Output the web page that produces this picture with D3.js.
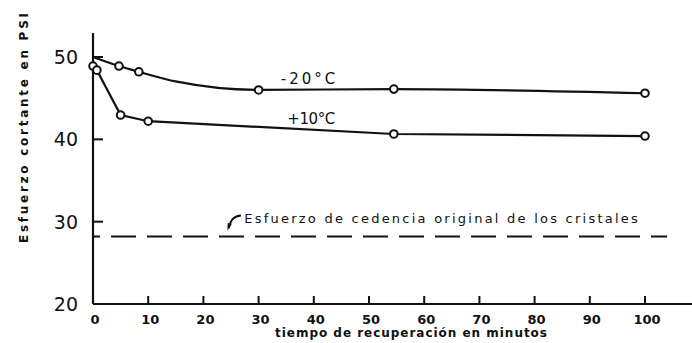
<!DOCTYPE html>
<html><head><meta charset="utf-8">
<script src="https://cdn.jsdelivr.net/npm/d3@7"></script>
<style>
html,body{margin:0;padding:0;background:#fff;}
svg{display:block;}
text{font-family:"DejaVu Sans",sans-serif;fill:#111;}
</style></head>
<body><svg id="c" width="692" height="343"></svg>
<script>
// ---- data ----
const minutesM20 = [0, 4.7, 8.3, 15.2, 30, 54.5, 100];
const valuesM20  = [50.0, 48.9, 48.2, 47.0, 46.0, 46.1, 45.6];
const markedM20  = [false, true, true, false, true, true, true];
const minutesP10 = [0, 0.7, 5, 10, 54.5, 100];
const valuesP10  = [48.9, 48.4, 42.95, 42.2, 40.65, 40.4];
const markedP10  = [true, true, true, true, true, true];
const yieldStress = 28.2;
const xTicks = [0,10,20,30,40,50,60,70,80,90,100];
const yTicks = [20,30,40,50];
const seriesLabels = ["-20°C", "+10°C"];
const yTitle = "Esfuerzo cortante en PSI";
const xTitle = "tiempo de recuperación en minutos";
const noteText = "Esfuerzo de cedencia original de los cristales";

// ---- layout ----
const svg = d3.select("#c");
const x = d3.scaleLinear().domain([0,100]).range([93,645]);
const y = d3.scaleLinear().domain([20,50]).range([304,57]);
const ink = "#111";

// axes
svg.append("line").attr("x1",x(0)).attr("x2",692).attr("y1",y(20)).attr("y2",y(20))
  .attr("stroke",ink).attr("stroke-width",2.2);
svg.append("line").attr("x1",x(0)).attr("x2",x(0)).attr("y1",y(20)).attr("y2",33)
  .attr("stroke",ink).attr("stroke-width",2.2);

// x ticks (pointing up)
svg.selectAll(".xt").data(xTicks.slice(1)).join("line")
  .attr("x1",d=>x(d)).attr("x2",d=>x(d)).attr("y1",y(20)).attr("y2",y(20)-8)
  .attr("stroke",ink).attr("stroke-width",2);
svg.selectAll(".xl").data(xTicks).join("text")
  .attr("x",d=>x(d)+2).attr("y",324).attr("text-anchor","middle")
  .attr("font-size",13).attr("font-weight","bold").text(d=>d);

// y ticks (pointing right)
svg.selectAll(".yt").data(yTicks.slice(1)).join("line")
  .attr("x1",x(0)).attr("x2",x(0)+10).attr("y1",d=>y(d)).attr("y2",d=>y(d))
  .attr("stroke",ink).attr("stroke-width",2);
svg.selectAll(".yl").data(yTicks).join("text")
  .attr("x",78).attr("y",d=>y(d)+7).attr("text-anchor","end")
  .attr("font-size",19).text(d=>d);

// axis titles
svg.append("text").attr("transform","translate(28,128) rotate(-90)")
  .attr("text-anchor","middle").attr("font-size",12).attr("font-weight","bold")
  .attr("textLength",230).attr("lengthAdjust","spacing").text(yTitle);
svg.append("text").attr("x",411).attr("y",337).attr("text-anchor","middle")
  .attr("font-size",12).attr("font-weight","bold")
  .attr("textLength",272).attr("lengthAdjust","spacing").text(xTitle);

// yield dashed line
svg.append("line").attr("x1",x(0)).attr("x2",x(104)).attr("y1",y(yieldStress)).attr("y2",y(yieldStress))
  .attr("stroke",ink).attr("stroke-width",2).attr("stroke-dasharray","25,11").attr("stroke-dashoffset",18);

// annotation arrow
svg.append("path")
  .attr("d",`M${x(24.6)},${y(29.2)} Q${x(25.0)},${y(30.7)} ${x(26.8)},${y(30.75)}`)
  .attr("fill","none").attr("stroke",ink).attr("stroke-width",1.8);
svg.append("path")
  .attr("d",`M${x(24.35)},${y(28.9)} L${x(24.4)},${y(29.85)} L${x(25.15)},${y(29.75)} Z`)
  .attr("fill",ink);
svg.append("text").attr("x",x(27.4)).attr("y",y(29.85)).attr("font-size",13)
  .attr("textLength",x(98.7)-x(27.4)).attr("lengthAdjust","spacing").text(noteText);

// series
function drawSeries(xs, vs, marks, curve){
  const pts = xs.map((d,i)=>({m:d, v:vs[i], k:marks[i]}));
  svg.append("path").datum(pts)
    .attr("d", d3.line().x(d=>x(d.m)).y(d=>y(d.v)).curve(curve))
    .attr("fill","none").attr("stroke",ink).attr("stroke-width",2.2);
  svg.append("g").selectAll("circle").data(pts.filter(d=>d.k)).join("circle")
    .attr("cx",d=>x(d.m)).attr("cy",d=>y(d.v)).attr("r",3.8)
    .attr("fill","#fff").attr("stroke",ink).attr("stroke-width",2);
}
drawSeries(minutesM20, valuesM20, markedM20, d3.curveMonotoneX);
drawSeries(minutesP10, valuesP10, markedP10, d3.curveLinear);

// series labels
svg.append("text").attr("x",x(34)).attr("y",y(47.45)+6).attr("font-size",15)
  .attr("textLength",x(43.9)-x(34)).text(seriesLabels[0]);
svg.append("text").attr("x",x(35.2)).attr("y",y(42.6)+6).attr("font-size",15)
  .attr("textLength",x(43.9)-x(35.2)).text(seriesLabels[1]);
</script></body></html>
